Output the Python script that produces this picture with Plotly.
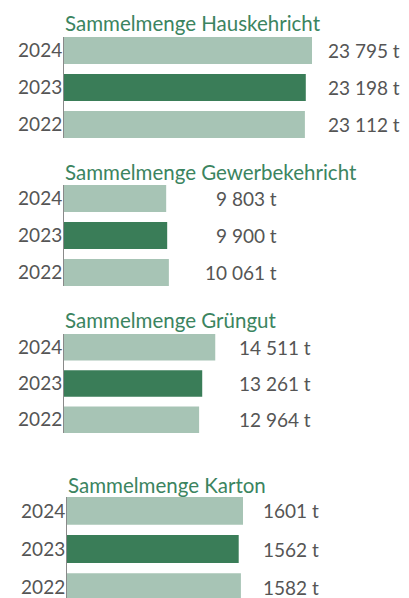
import plotly.graph_objects as go
from plotly.subplots import make_subplots

years = ["2024", "2023", "2022"]
year_order = ["2022", "2023", "2024"]
titles = ["Sammelmenge Hauskehricht", "Sammelmenge Gewerbekehricht",
          "Sammelmenge Grüngut", "Sammelmenge Karton"]
hauskehricht = [23795, 23198, 23112]
gewerbekehricht = [9803, 9900, 10061]
gruengut = [14511, 13261, 12964]
karton = [1601, 1562, 1582]
labels = [["23 795 t", "23 198 t", "23 112 t"],
          ["9 803 t", "9 900 t", "10 061 t"],
          ["14 511 t", "13 261 t", "12 964 t"],
          ["1601 t", "1562 t", "1582 t"]]
series = [hauskehricht, gewerbekehricht, gruengut, karton]

LIGHT = "#a7c4b5"
DARK = "#3a7d58"
GREEN_TXT = "#3b8460"
GREY_TXT = "#555555"
FONT = "Lato"

# page body adds an 8px margin, so the figure is drawn 8px in from the corner
OFF = 8
W, H = 409 - OFF, 598 - OFF
ML = 64 - OFF
PW = W - ML

# panel layout in page pixels (top, bottom) and x ranges
panel_px = [(37, 138), (185, 286), (334, 433), (497, 598)]
xranges = [33100, 33100, 33100, 3111]
label_right = [402, 279, 313, 321]
title_top = [9, 158, 306, 471]

fig = make_subplots(rows=4, cols=1)

for i, vals in enumerate(series):
    colors = [LIGHT, DARK, LIGHT]
    fig.add_trace(go.Bar(
        y=years, x=vals, orientation="h",
        marker=dict(color=colors, line_width=0),
        width=0.73, hoverinfo="skip", showlegend=False,
    ), row=i + 1, col=1)
    top, bot = panel_px[i]
    yd = [1 - (bot - OFF) / H, 1 - (top - OFF) / H]
    ax = "" if i == 0 else str(i + 1)
    lo = -0.365 + (0.08 if i == 3 else 0)
    fig.layout["yaxis" + ax].update(
        domain=yd, type="category", categoryorder="array",
        categoryarray=year_order, range=[lo, 2.365],
        showline=True, linecolor="#8a8a8a", linewidth=1, ticks="",
        ticklabelstandoff=-3, showgrid=False, zeroline=False,
        tickfont=dict(family=FONT, size=19, color=GREY_TXT),
    )
    xd = [3 / PW, 1] if i == 3 else [0, 1]
    fig.layout["xaxis" + ax].update(
        domain=xd, range=[0, xranges[i]], visible=False,
    )
    # title
    fig.add_annotation(
        text=titles[i], xref="paper", yref="paper",
        x=(63 - 64) / PW + (3 / PW if i == 3 else 0),
        y=1 - (title_top[i] - OFF) / H,
        xanchor="left", yanchor="top", showarrow=False,
        font=dict(family=FONT, size=20.5, color=GREEN_TXT),
    )
    # value labels
    for y, lab in zip(years, labels[i]):
        fig.add_annotation(
            text=lab, xref="paper", yref="y" + ax,
            x=(label_right[i] - 64) / PW,
            y=year_order.index(y), xanchor="right", yanchor="middle",
            showarrow=False,
            font=dict(family=FONT, size=19, color=GREY_TXT),
        )

fig.update_layout(
    width=W, height=H, bargap=0.27,
    margin=dict(l=ML, r=0, t=0, b=0, autoexpand=False),
    plot_bgcolor="white", paper_bgcolor="white",
)

fig.write_html("out.html")
